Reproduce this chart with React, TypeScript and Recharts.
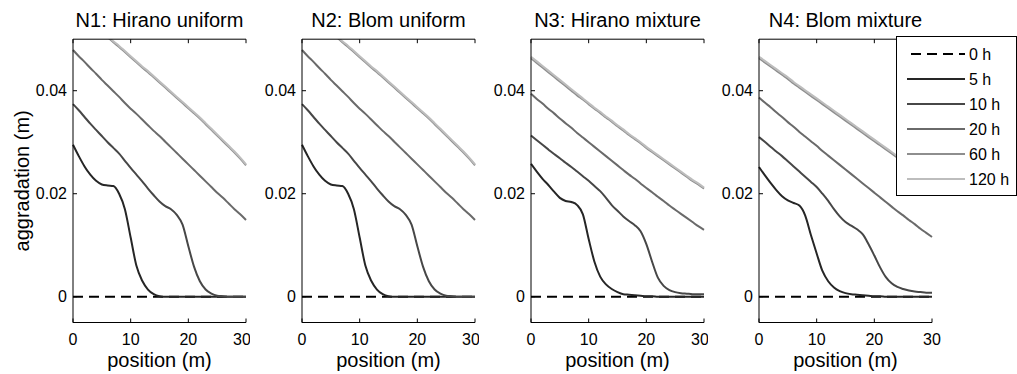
import React from "react";
import { LineChart, Line, XAxis, YAxis, Legend } from "recharts";

// positions along the flume (m)
const POS = [0, 1, 2, 3, 4, 5, 6, 7, 8, 9, 10, 11, 12, 13, 14, 15, 16, 17, 18, 19, 20, 21, 22, 23, 24, 25, 26, 27, 28, 29, 30];

const X_TICKS = [0, 10, 20, 30];
const Y_TICKS = [0, 0.02, 0.04];
const TITLES = ["N1: Hirano uniform", "N2: Blom uniform", "N3: Hirano mixture", "N4: Blom mixture"];

const H0 = POS.map(() => 0);

// uniform sediment runs (N1 and N2 read the same off the picture)
const UNI_5 = [0.0295, 0.0273, 0.0253, 0.0237, 0.0225, 0.0218, 0.0216, 0.0215, 0.02, 0.017, 0.0115, 0.006, 0.0031, 0.0014, 0.0005, 0.0001, 0, 0, 0, 0, 0, 0, 0, 0, 0, 0, 0, 0, 0, 0, 0];
const UNI_10 = [0.0374, 0.0362, 0.0349, 0.0336, 0.0324, 0.0312, 0.03, 0.0289, 0.0278, 0.0264, 0.025, 0.0237, 0.0224, 0.021, 0.0197, 0.0185, 0.0176, 0.017, 0.0159, 0.014, 0.0098, 0.0058, 0.003, 0.0014, 0.0006, 0.0002, 0.0001, 0, 0, 0, 0];
const UNI_20 = [0.0479, 0.0467, 0.0456, 0.0444, 0.0433, 0.0421, 0.041, 0.0399, 0.0388, 0.0376, 0.0365, 0.0355, 0.0344, 0.0333, 0.0322, 0.0312, 0.0301, 0.029, 0.0279, 0.0268, 0.0257, 0.0246, 0.0235, 0.0224, 0.0213, 0.0202, 0.0192, 0.0181, 0.017, 0.016, 0.0149];
const UNI_60 = [0.0564, 0.0554, 0.0544, 0.0534, 0.0524, 0.0514, 0.0504, 0.0494, 0.0485, 0.0475, 0.0465, 0.0455, 0.0445, 0.0436, 0.0426, 0.0416, 0.0406, 0.0396, 0.0386, 0.0376, 0.0366, 0.0356, 0.0346, 0.0335, 0.0324, 0.0313, 0.0302, 0.0291, 0.028, 0.0268, 0.0255];
const UNI_120 = [0.0566, 0.0556, 0.0546, 0.0536, 0.0526, 0.0516, 0.0506, 0.0496, 0.0487, 0.0477, 0.0467, 0.0457, 0.0447, 0.0438, 0.0428, 0.0418, 0.0408, 0.0398, 0.0388, 0.0378, 0.0368, 0.0358, 0.0348, 0.0337, 0.0326, 0.0315, 0.0304, 0.0293, 0.0282, 0.027, 0.0257];

// N3: Hirano mixture
const N3_5 = [0.0258, 0.0243, 0.0229, 0.0217, 0.0204, 0.0192, 0.0186, 0.0184, 0.0178, 0.016, 0.0112, 0.0068, 0.0039, 0.0024, 0.0015, 0.0009, 0.0005, 0.0004, 0.0003, 0.0002, 0.0001, 0.0001, 0, 0, 0, 0, 0, 0, 0, 0, 0];
const N3_10 = [0.0313, 0.0304, 0.0295, 0.0286, 0.0277, 0.0269, 0.026, 0.0252, 0.0243, 0.0234, 0.0225, 0.0215, 0.0205, 0.0192, 0.0178, 0.0167, 0.0156, 0.0147, 0.0139, 0.0127, 0.0102, 0.0068, 0.0037, 0.0021, 0.0013, 0.0009, 0.0007, 0.0006, 0.0005, 0.0005, 0.0005];
const N3_20 = [0.0394, 0.0384, 0.0375, 0.0365, 0.0356, 0.0346, 0.0337, 0.0328, 0.0318, 0.0309, 0.03, 0.0291, 0.0282, 0.0273, 0.0264, 0.0255, 0.0246, 0.0237, 0.0229, 0.022, 0.0211, 0.0203, 0.0194, 0.0186, 0.0177, 0.0169, 0.0161, 0.0153, 0.0145, 0.0137, 0.013];
const N3_60 = [0.0463, 0.0454, 0.0445, 0.0436, 0.0427, 0.0418, 0.0409, 0.04, 0.0391, 0.0383, 0.0374, 0.0365, 0.0357, 0.0348, 0.034, 0.0331, 0.0323, 0.0314, 0.0306, 0.0298, 0.0289, 0.0281, 0.0273, 0.0265, 0.0257, 0.0249, 0.0241, 0.0233, 0.0225, 0.0218, 0.021];
const N3_120 = [0.0466, 0.0457, 0.0448, 0.0439, 0.043, 0.0421, 0.0412, 0.0403, 0.0394, 0.0385, 0.0376, 0.0367, 0.0359, 0.035, 0.0342, 0.0333, 0.0325, 0.0316, 0.0308, 0.03, 0.0291, 0.0283, 0.0275, 0.0267, 0.0259, 0.0251, 0.0243, 0.0235, 0.0227, 0.022, 0.0212];

// N4: Blom mixture
const N4_5 = [0.0252, 0.0236, 0.0221, 0.0207, 0.0195, 0.0187, 0.0182, 0.0177, 0.0158, 0.012, 0.0084, 0.005, 0.003, 0.0018, 0.0011, 0.0007, 0.0005, 0.0004, 0.0003, 0.0002, 0.0001, 0.0001, 0, 0, 0, 0, 0, 0, 0, 0, 0];
const N4_10 = [0.031, 0.0301, 0.0291, 0.0282, 0.0273, 0.0263, 0.0253, 0.0243, 0.0233, 0.0223, 0.0213, 0.02, 0.0186, 0.017, 0.0156, 0.0145, 0.0138, 0.0131, 0.0121, 0.0102, 0.008, 0.0057, 0.0038, 0.0026, 0.0019, 0.0015, 0.0012, 0.001, 0.0009, 0.0008, 0.0008];
const N4_20 = [0.0387, 0.0377, 0.0368, 0.0358, 0.0349, 0.0339, 0.033, 0.032, 0.0311, 0.0302, 0.0293, 0.0283, 0.0274, 0.0265, 0.0256, 0.0247, 0.0238, 0.0229, 0.022, 0.0211, 0.0202, 0.0193, 0.0184, 0.0175, 0.0166, 0.0158, 0.0149, 0.0141, 0.0132, 0.0124, 0.0116];
const N4_60 = [0.0463, 0.0455, 0.0447, 0.0439, 0.0431, 0.0423, 0.0414, 0.0406, 0.0398, 0.039, 0.0382, 0.0374, 0.0366, 0.0358, 0.035, 0.0342, 0.0334, 0.0326, 0.0318, 0.031, 0.0302, 0.0294, 0.0286, 0.0278, 0.027, 0.0262, 0.0254, 0.0246, 0.0238, 0.023, 0.0222];
const N4_120 = [0.0466, 0.0458, 0.045, 0.0442, 0.0434, 0.0426, 0.0417, 0.0409, 0.0401, 0.0393, 0.0385, 0.0377, 0.0369, 0.0361, 0.0353, 0.0345, 0.0337, 0.0329, 0.0321, 0.0313, 0.0305, 0.0297, 0.0289, 0.0281, 0.0273, 0.0265, 0.0257, 0.0249, 0.0241, 0.0233, 0.0225];

const SERIES = [
  { key: "h0", name: "0 h", color: "#000000", dash: "10 6" },
  { key: "h5", name: "5 h", color: "#262626" },
  { key: "h10", name: "10 h", color: "#474747" },
  { key: "h20", name: "20 h", color: "#6a6a6a" },
  { key: "h60", name: "60 h", color: "#8e8e8e" },
  { key: "h120", name: "120 h", color: "#bdbdbd" },
];

const RUNS = [
  [H0, UNI_5, UNI_10, UNI_20, UNI_60, UNI_120],
  [H0, UNI_5, UNI_10, UNI_20, UNI_60, UNI_120],
  [H0, N3_5, N3_10, N3_20, N3_60, N3_120],
  [H0, N4_5, N4_10, N4_20, N4_60, N4_120],
];

const toRows = (cols: number[][]) =>
  POS.map((x, i) => {
    const row: Record<string, number> = { x };
    SERIES.forEach((s, j) => (row[s.key] = cols[j][i]));
    return row;
  });

const PLOT_LEFTS = [73.3, 302.3, 530.7, 759];
const AXIS_W = 73;
const PLOT_W = 173;
const TOP_H = 30;
const Y_DOMAIN: [number, number] = [-0.005, 0.05];
const tickStyle = { fill: "#000", fontSize: 16 };

function LegendBox() {
  return (
    <svg width={121} height={160} style={{ display: "block" }}>
      <rect x={0.5} y={0.5} width={120} height={159} fill="#fff" stroke="#000" />
      {SERIES.map((s, i) => {
        const y = 18 + i * 25;
        return (
          <g key={s.key}>
            <line x1={s.dash ? 15 : 11} x2={69} y1={y} y2={y} stroke={s.color} strokeWidth={2} strokeDasharray={s.dash} />
            <text x={73} y={y} dy="0.35em" fontSize={16} fill="#000">{s.name}</text>
          </g>
        );
      })}
    </svg>
  );
}

function Panel({ idx }: { idx: number }) {
  const left = PLOT_LEFTS[idx] - AXIS_W;
  const last = idx === 3;
  const width = last ? 1017 - left : AXIS_W + PLOT_W + 4;
  const rows = toRows(RUNS[idx]);
  return (
    <div style={{ position: "absolute", left, top: 0 }}>
      <LineChart width={width} height={374} data={rows} margin={{ top: 39.2 - TOP_H, right: width - AXIS_W - PLOT_W, bottom: 0, left: 0 }}>
        <XAxis xAxisId="b" dataKey="x" type="number" domain={[0, 30]} ticks={X_TICKS} height={51.5}
          tick={tickStyle} tickSize={-4} tickMargin={15} axisLine={{ stroke: "#000" }} tickLine={{ stroke: "#000" }}
          label={{ value: "position (m)", position: "insideBottom", offset: 7, style: { fontSize: 20, fill: "#000" } }} />
        <XAxis xAxisId="t" orientation="top" dataKey="x" type="number" domain={[0, 30]} ticks={X_TICKS} height={TOP_H}
          tick={tickStyle} tickFormatter={() => ""} tickSize={-4} axisLine={{ stroke: "#000" }} tickLine={{ stroke: "#000" }}
          label={{ value: TITLES[idx], position: "insideTop", offset: 3.3, style: { fontSize: 20, fill: "#000" } }} />
        <YAxis yAxisId="l" type="number" domain={Y_DOMAIN} allowDataOverflow ticks={Y_TICKS} width={AXIS_W}
          tick={tickStyle} tickSize={-4} tickMargin={10} axisLine={{ stroke: "#000" }} tickLine={{ stroke: "#000" }}
          tickFormatter={(v: number) => (v === 0 ? "0" : v.toFixed(2))}
          label={idx === 0 ? { value: "aggradation (m)", angle: -90, position: "insideLeft", offset: 22, style: { textAnchor: "middle", fontSize: 20, fill: "#000" } } : undefined} />
        <YAxis yAxisId="r" orientation="right" type="number" domain={Y_DOMAIN} allowDataOverflow ticks={Y_TICKS} width={0}
          tick={tickStyle} tickFormatter={() => ""} tickSize={-4} axisLine={{ stroke: "#000" }} tickLine={{ stroke: "#000" }} />
        {SERIES.map((s) => (
          <Line key={s.key} xAxisId="b" yAxisId="l" type="monotone" dataKey={s.key} name={s.name} stroke={s.color}
            strokeWidth={2} strokeDasharray={s.dash} dot={false} activeDot={false} isAnimationActive={false} />
        ))}
        {last && (
          <Legend layout="vertical" align="center" verticalAlign="middle" content={() => <LegendBox />}
            wrapperStyle={{ left: 210, top: 36, width: 121, height: 160 }} />
        )}
      </LineChart>
    </div>
  );
}

export default function App() {
  return (
    <div style={{ position: "absolute", left: 0, top: 0, width: 1017, height: 374, background: "#fff", fontFamily: "'Liberation Sans', Arial, Helvetica, sans-serif" }}>
      {TITLES.map((_, i) => (
        <Panel key={i} idx={i} />
      ))}
    </div>
  );
}
